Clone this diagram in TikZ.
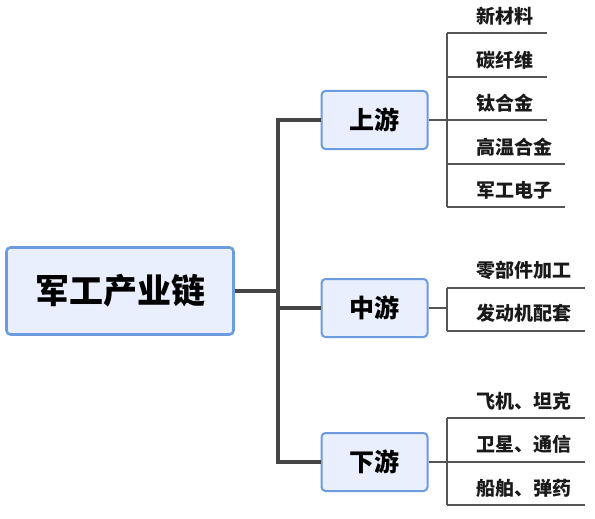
\documentclass[tikz,border=0pt]{standalone}
\usepackage{fontspec}
\setmainfont{Noto Sans CJK SC}
\definecolor{boxfill}{HTML}{E9EFFC}
\definecolor{boxline}{HTML}{6C9BE0}
\definecolor{trunkc}{HTML}{454545}
\definecolor{leafc}{HTML}{555555}
\definecolor{txt}{HTML}{1A1A1A}
\begin{document}
\begin{tikzpicture}[x=1pt,y=-1pt,
  mainbox/.style={draw=boxline,fill=boxfill,line width=2.6pt,rounded corners=4pt,
    minimum width=227pt,minimum height=87pt,inner sep=0pt,font=\fontsize{34}{38}\selectfont\bfseries},
  subbox/.style={draw=boxline,fill=boxfill,line width=2pt,rounded corners=4pt,
    minimum width=106pt,minimum height=58pt,inner sep=0pt,font=\fontsize{25}{29}\selectfont\bfseries},
  leaftext/.style={anchor=west,inner sep=0pt,text=txt,font=\fontsize{19}{21}\selectfont\bfseries},
  trunk/.style={draw=trunkc,line width=3.6pt},
  leafline/.style={draw=leafc,line width=1.1pt}]
\useasboundingbox[fill=white] (0,0) rectangle (595,519);
% main and sub boxes
\node[mainbox] (main) at (120,291) {军工产业链};
\node[subbox] (up) at (374.5,120) {上游};
\node[subbox] (mid) at (374.5,308) {中游};
\node[subbox] (down) at (374.5,462) {下游};
% trunk
\coordinate (j) at (278,291);
\coordinate (tt) at (278,120);
\coordinate (tm) at (278,308);
\coordinate (tb) at (278,462);
\draw[trunk] (main.east) -- (j);
\draw[trunk] (up.west) -- (tt) -- (tb) -- (down.west);
\draw[trunk] (tm) -- (mid.west);
% upstream leaves
\coordinate (u1) at (447,33);  \coordinate (u1e) at (547,33);
\coordinate (u2) at (447,77);  \coordinate (u2e) at (547,77);
\coordinate (u3) at (447,120); \coordinate (u3e) at (547,120);
\coordinate (u4) at (447,164); \coordinate (u4e) at (565,164);
\coordinate (u5) at (447,207); \coordinate (u5e) at (565,207);
\draw[leafline] (up.east) -- (u3);
\draw[leafline] (u1) -- (u5);
\foreach \i in {1,...,5} {\draw[leafline] (u\i) -- (u\i e);}
\node[leaftext] (l1) at (476,16) {新材料};
\node[leaftext] (l2) at (476,60) {碳纤维};
\node[leaftext] (l3) at (476,103) {钛合金};
\node[leaftext] (l4) at (476,147) {高温合金};
\node[leaftext] (l5) at (476,190) {军工电子};
% midstream leaves
\coordinate (m1) at (447,288); \coordinate (m1e) at (585,288);
\coordinate (m2) at (447,331); \coordinate (m2e) at (585,331);
\coordinate (mj) at (447,308);
\draw[leafline] (mid.east) -- (mj);
\draw[leafline] (m1) -- (m2);
\draw[leafline] (m1) -- (m1e);
\draw[leafline] (m2) -- (m2e);
\node[leaftext] (l6) at (476,270) {零部件加工};
\node[leaftext] (l7) at (476,313) {发动机配套};
% downstream leaves
\coordinate (d1) at (447,418); \coordinate (d1e) at (585,418);
\coordinate (d2) at (447,462); \coordinate (d2e) at (585,462);
\coordinate (d3) at (447,505); \coordinate (d3e) at (585,505);
\draw[leafline] (down.east) -- (d2);
\draw[leafline] (d1) -- (d3);
\foreach \i in {1,2,3} {\draw[leafline] (d\i) -- (d\i e);}
\node[leaftext] (l8) at (476,401) {飞机、坦克};
\node[leaftext] (l9) at (476,444) {卫星、通信};
\node[leaftext] (l10) at (476,488) {船舶、弹药};
\end{tikzpicture}
\end{document}
